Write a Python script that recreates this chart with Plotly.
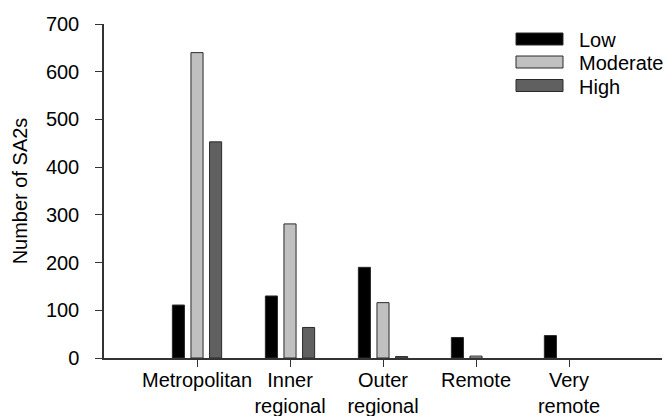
import plotly.graph_objects as go

categories = ["Metropolitan", "Inner<br>regional", "Outer<br>regional", "Remote", "Very<br>remote"]
low = [111, 130, 190, 43, 47]
moderate = [640, 281, 116, 4, 0]
high = [453, 64, 3, 0, 0]
series_names = ["Low", "Moderate", "High"]
series_colors = ["#000000", "#c0c0c0", "#606060"]
y_ticks = [0, 100, 200, 300, 400, 500, 600, 700]

W, H = 670, 416
ML, MR, MT, MB = 104, 8, 24, 58
PW, PH = W - ML - MR, H - MT - MB

x_pos = list(range(len(categories)))
outline = "#2a2a2a"

fig = go.Figure()
for name, vals, col in zip(series_names, [low, moderate, high], series_colors):
    fig.add_trace(go.Bar(
        x=x_pos, y=vals, name=name, showlegend=False,
        marker=dict(color=col,
                    line=dict(color=outline, width=[1 if v > 0 else 0 for v in vals])),
    ))

# custom legend (wide swatches like the reference); positions in screen pixels
def px_x(p):
    return (p - ML) / PW

def px_y(p):
    return (H - MB - p) / PH

leg_x0, leg_x1, leg_text_x = 516, 563, 577
leg_rows = [39, 62, 85.5]
for name, col, yc in zip(series_names, series_colors, leg_rows):
    fig.add_shape(type="rect", xref="paper", yref="paper",
                  x0=px_x(leg_x0), x1=px_x(leg_x1),
                  y0=px_y(yc + 6), y1=px_y(yc - 6),
                  fillcolor=col, line=dict(color=outline, width=1))
    fig.add_annotation(text=name, xref="paper", yref="paper",
                       x=px_x(leg_text_x), y=px_y(yc + 1),
                       xanchor="left", yanchor="middle", showarrow=False,
                       font=dict(size=20))

font_family = "Liberation Sans, Arial, sans-serif"
fig.update_layout(
    width=W, height=H,
    margin=dict(l=ML, r=MR, t=MT, b=MB),
    paper_bgcolor="white", plot_bgcolor="white",
    barmode="group", bargap=0.4, bargroupgap=0.35,
    font=dict(family=font_family, size=20, color="#000000"),
    showlegend=False,
    xaxis=dict(
        range=[-1, 5], tickmode="array", tickvals=x_pos, ticktext=categories,
        tickangle=0,
        showline=True, linecolor="#333333", linewidth=1.5,
        ticks="outside", ticklen=7, tickcolor="#333333", tickwidth=1,
        showgrid=False, zeroline=False, tickfont=dict(size=20),
        ticklabelstandoff=-4,
        automargin=False,
    ),
    yaxis=dict(
        range=[0, 700], tickvals=y_ticks,
        showline=True, linecolor="#333333", linewidth=1.5,
        ticks="outside", ticklen=7, tickcolor="#333333", tickwidth=1,
        showgrid=False, zeroline=False, tickfont=dict(size=20),
        ticklabelstandoff=12,
        title=dict(text="Number of SA2s", font=dict(size=20), standoff=13),
        automargin=False,
    ),
)

fig.write_html(
    "out.html",
    config={"displayModeBar": False},
    post_script="document.body.style.margin='0';document.body.style.overflow='hidden';",
)
